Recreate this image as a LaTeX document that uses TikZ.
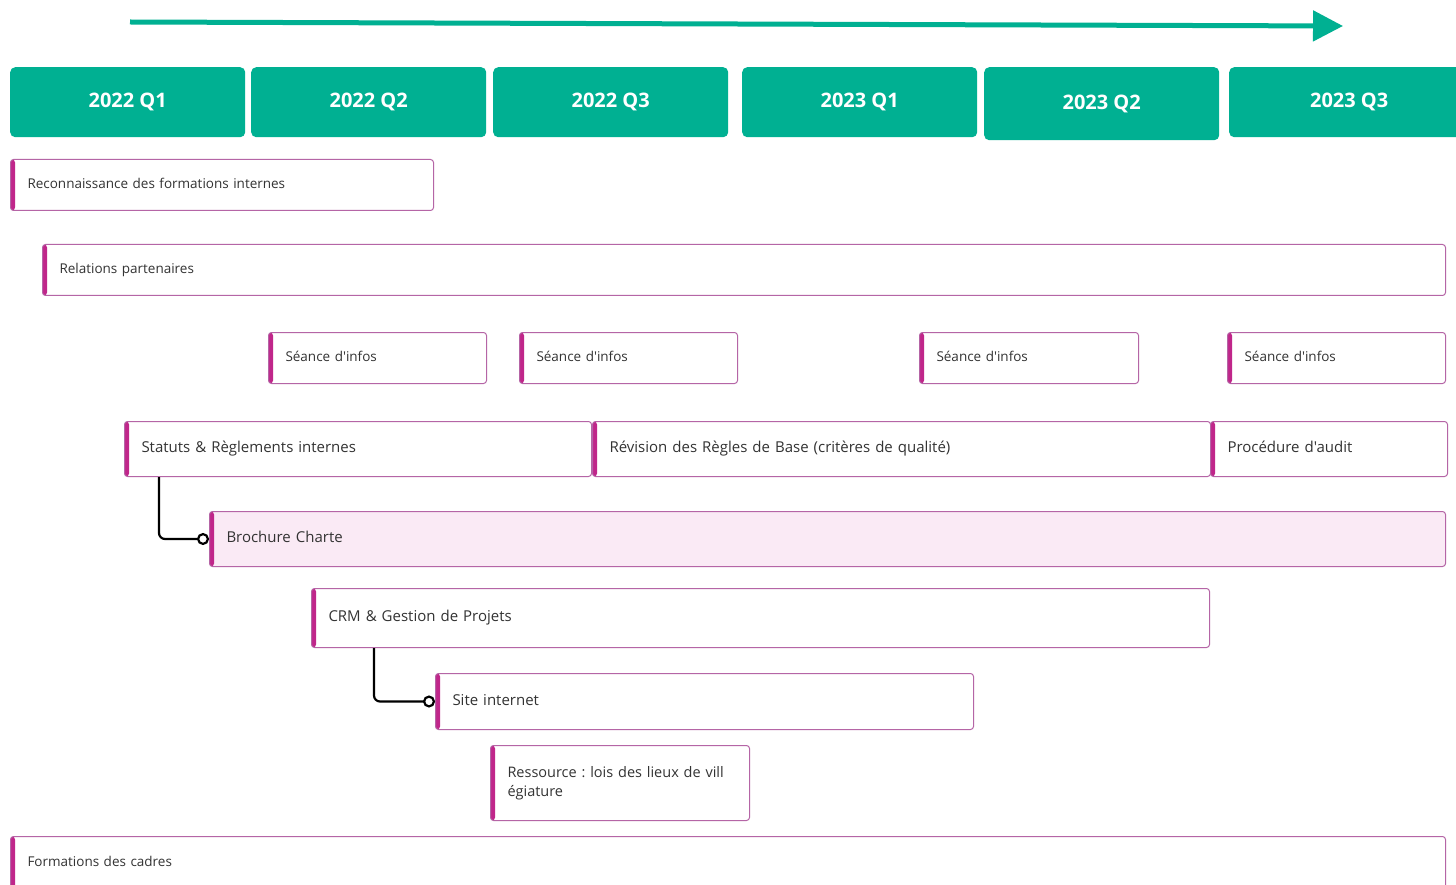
\documentclass[tikz,border=0pt]{standalone}
\usepackage{fontspec}
\setmainfont{Open Sans}[Ligatures=TeXOff]
\usetikzlibrary{arrows.meta}
\definecolor{tealq}{HTML}{00B092}
\definecolor{bordc}{HTML}{B565A6}
\definecolor{barc}{HTML}{C0268A}
\definecolor{pinkf}{HTML}{FAEAF5}
\definecolor{txt}{HTML}{333333}
\frenchspacing
\begin{document}
\begin{tikzpicture}[x=1pt,y=-1pt,
  qbox/.style={fill=tealq, rounded corners=5pt, anchor=north west, inner sep=0pt,
    minimum width=235pt, minimum height=70pt, text=white,
    font=\fontsize{20}{24}\selectfont\bfseries},
  task/.style={draw=bordc, line width=1pt, fill=white, rounded corners=3pt,
    anchor=north west, inner xsep=17pt, inner ysep=0pt, align=left, text=txt,
    font=\fontsize{13.5}{18}\selectfont,
    execute at begin node=\strut, execute at end node=\strut,
    path picture={\fill[barc] (path picture bounding box.north west) rectangle ([xshift=4.5pt]path picture bounding box.south west);}},
  big/.style={font=\fontsize{15}{19.5}\selectfont},
  mid/.style={font=\fontsize{14.5}{19}\selectfont},
  conn/.style={line width=2.2pt, black, rounded corners=6pt, -{Circle[open, length=12pt, width=12pt]}},
]
\useasboundingbox (0,0) rectangle (1456,885);
\clip (0,0) rectangle (1456,885);
\fill[white] (0,0) rectangle (1456,885);

% timeline arrow
\coordinate (as) at (130,22);
\coordinate (ae) at (1343,26);
\draw[line width=5pt, tealq, -{Triangle[length=30pt,width=30pt]}] (as) -- (ae);

% quarter headers
\node[qbox] (q1) at (10,67) {2022 Q1};
\node[qbox] (q2) at (251,67) {2022 Q2};
\node[qbox] (q3) at (493,67) {2022 Q3};
\node[qbox] (q4) at (742,67) {2023 Q1};
\node[qbox, minimum height=73pt] (q5) at (984,67) {2023 Q2};
\node[qbox, minimum width=240pt] (q6) at (1229,67) {2023 Q3};

% tasks
\node[task, text width=389pt, minimum height=51pt] (rec) at (10,159) {Reconnaissance des formations internes};
\node[task, text width=1369pt, minimum height=51pt] (rel) at (42,244) {Relations partenaires};
\node[task, text width=184pt, minimum height=51pt] (s1) at (268,332) {Séance d'infos};
\node[task, text width=184pt, minimum height=51pt] (s2) at (519,332) {Séance d'infos};
\node[task, text width=185pt, minimum height=51pt] (s3) at (919,332) {Séance d'infos};
\node[task, text width=184pt, minimum height=51pt] (s4) at (1227,332) {Séance d'infos};
\node[task, big, text width=433pt, minimum height=55pt] (stat) at (124,421) {Statuts \& Règlements internes};
\node[task, big, text width=584pt, minimum height=55pt] (rev) at (592,421) {Révision des Règles de Base (critères de qualité)};
\node[task, big, text width=203pt, minimum height=55pt] (proc) at (1210,421) {Procédure d'audit};
\node[task, big, fill=pinkf, text width=1202pt, minimum height=55pt] (broch) at (209,511) {Brochure Charte};
\node[task, big, text width=864pt, minimum height=59pt] (crm) at (311,588) {CRM \& Gestion de Projets};
\node[task, big, text width=504pt, minimum height=56pt] (site) at (435,673) {Site internet};
\node[task, mid, text width=225pt, minimum height=75pt] (res) at (490,745) {Ressource : lois des lieux de vill\\égiature};
\node[task, text width=1401pt, minimum height=52pt] (form) at (10,836) {Formations des cadres};

% dependencies
\draw[conn] ([xshift=35pt]stat.south west) |- (broch.west);
\draw[conn] ([xshift=63pt]crm.south west) |- (site.west);
\end{tikzpicture}
\end{document}
